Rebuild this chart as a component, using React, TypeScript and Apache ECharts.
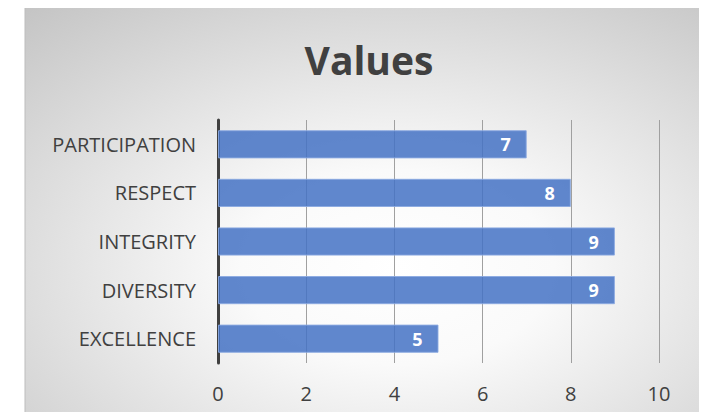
import React, { useEffect, useRef } from "react";
import * as echarts from "echarts";

const categories = ["EXCELLENCE", "DIVERSITY", "INTEGRITY", "RESPECT", "PARTICIPATION"];
const values = [5, 9, 9, 8, 7];
const xTicks = [0, 2, 4, 6, 8, 10];

export default function App() {
  const ref = useRef<HTMLDivElement>(null);
  useEffect(() => {
    const chart = echarts.init(ref.current!, null, { renderer: "svg" });
    chart.setOption({
      animation: false,
      backgroundColor: "#ffffff",
      graphic: [
        {
          type: "rect",
          z: -10,
          silent: true,
          shape: { x: 25, y: 7, width: 677, height: 420 },
          style: {
            fill: new echarts.graphic.RadialGradient(0.55, 0.62, 1.05, [
              { offset: 0, color: "#ffffff" },
              { offset: 0.22, color: "#fafafa" },
              { offset: 1, color: "#b0b0b0" },
            ]),
            stroke: "#bdbdbd",
            lineWidth: 1,
          },
        },
      ],
      title: {
        text: "Values",
        left: 364,
        top: 35,
        textAlign: "center",
        textStyle: {
          fontFamily: "Open Sans",
          fontWeight: "bold",
          fontSize: 39,
          color: "#404040",
        },
      },
      grid: { left: 218, right: 48, top: 120, bottom: 57 },
      xAxis: {
        type: "value",
        min: xTicks[0],
        max: xTicks[xTicks.length - 1],
        interval: 2,
        axisLine: { show: false },
        axisTick: { show: false },
        splitLine: { show: true, lineStyle: { color: "#a0a0a0", width: 1 } },
        axisLabel: {
          color: "#404040",
          fontSize: 20,
          fontFamily: "Open Sans",
          margin: 20,
        },
      },
      yAxis: {
        type: "category",
        data: categories,
        axisLine: { show: true, lineStyle: { color: "#404040", width: 3 } },
        axisTick: { show: false },
        axisLabel: {
          color: "#404040",
          fontSize: 20,
          fontFamily: "Open Sans",
          margin: 22,
        },
      },
      series: [
        {
          type: "bar",
          data: values,
          barCategoryGap: "42%",
          itemStyle: {
            color: "rgba(68,114,196,0.85)",
            borderColor: "rgba(140,170,225,0.9)",
            borderWidth: 1,
          },
          label: {
            show: true,
            position: "insideRight",
            color: "#ffffff",
            fontWeight: "bold",
            fontSize: 18,
            fontFamily: "Open Sans",
            distance: 16,
          },
        },
      ],
    });
    return () => chart.dispose();
  }, []);
  return (
    <div style={{ margin: -8, width: 707, height: 420 }}>
      <div ref={ref} style={{ width: 707, height: 420 }} />
    </div>
  );
}
